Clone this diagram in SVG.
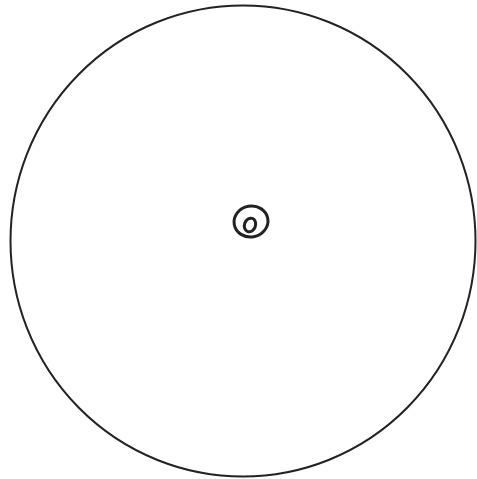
<svg xmlns="http://www.w3.org/2000/svg" width="477" height="479" viewBox="0 0 477 479">
<style>
.line{fill:none;stroke:#222;stroke-linecap:round}
</style>
<rect width="477" height="479" fill="#fff"/>
<g id="outer-circle">
<ellipse class="line" cx="243" cy="241" rx="232.5" ry="235.5" stroke-width="2"/>
</g>
<g id="center-mark">
<ellipse class="line" cx="251" cy="221.5" rx="17" ry="15.5" stroke-width="3" transform="rotate(-10 251 221.5)"/>
<ellipse class="line" cx="250" cy="225" rx="5.5" ry="7" stroke-width="3" transform="rotate(20 250 225)"/>
</g>
</svg>
